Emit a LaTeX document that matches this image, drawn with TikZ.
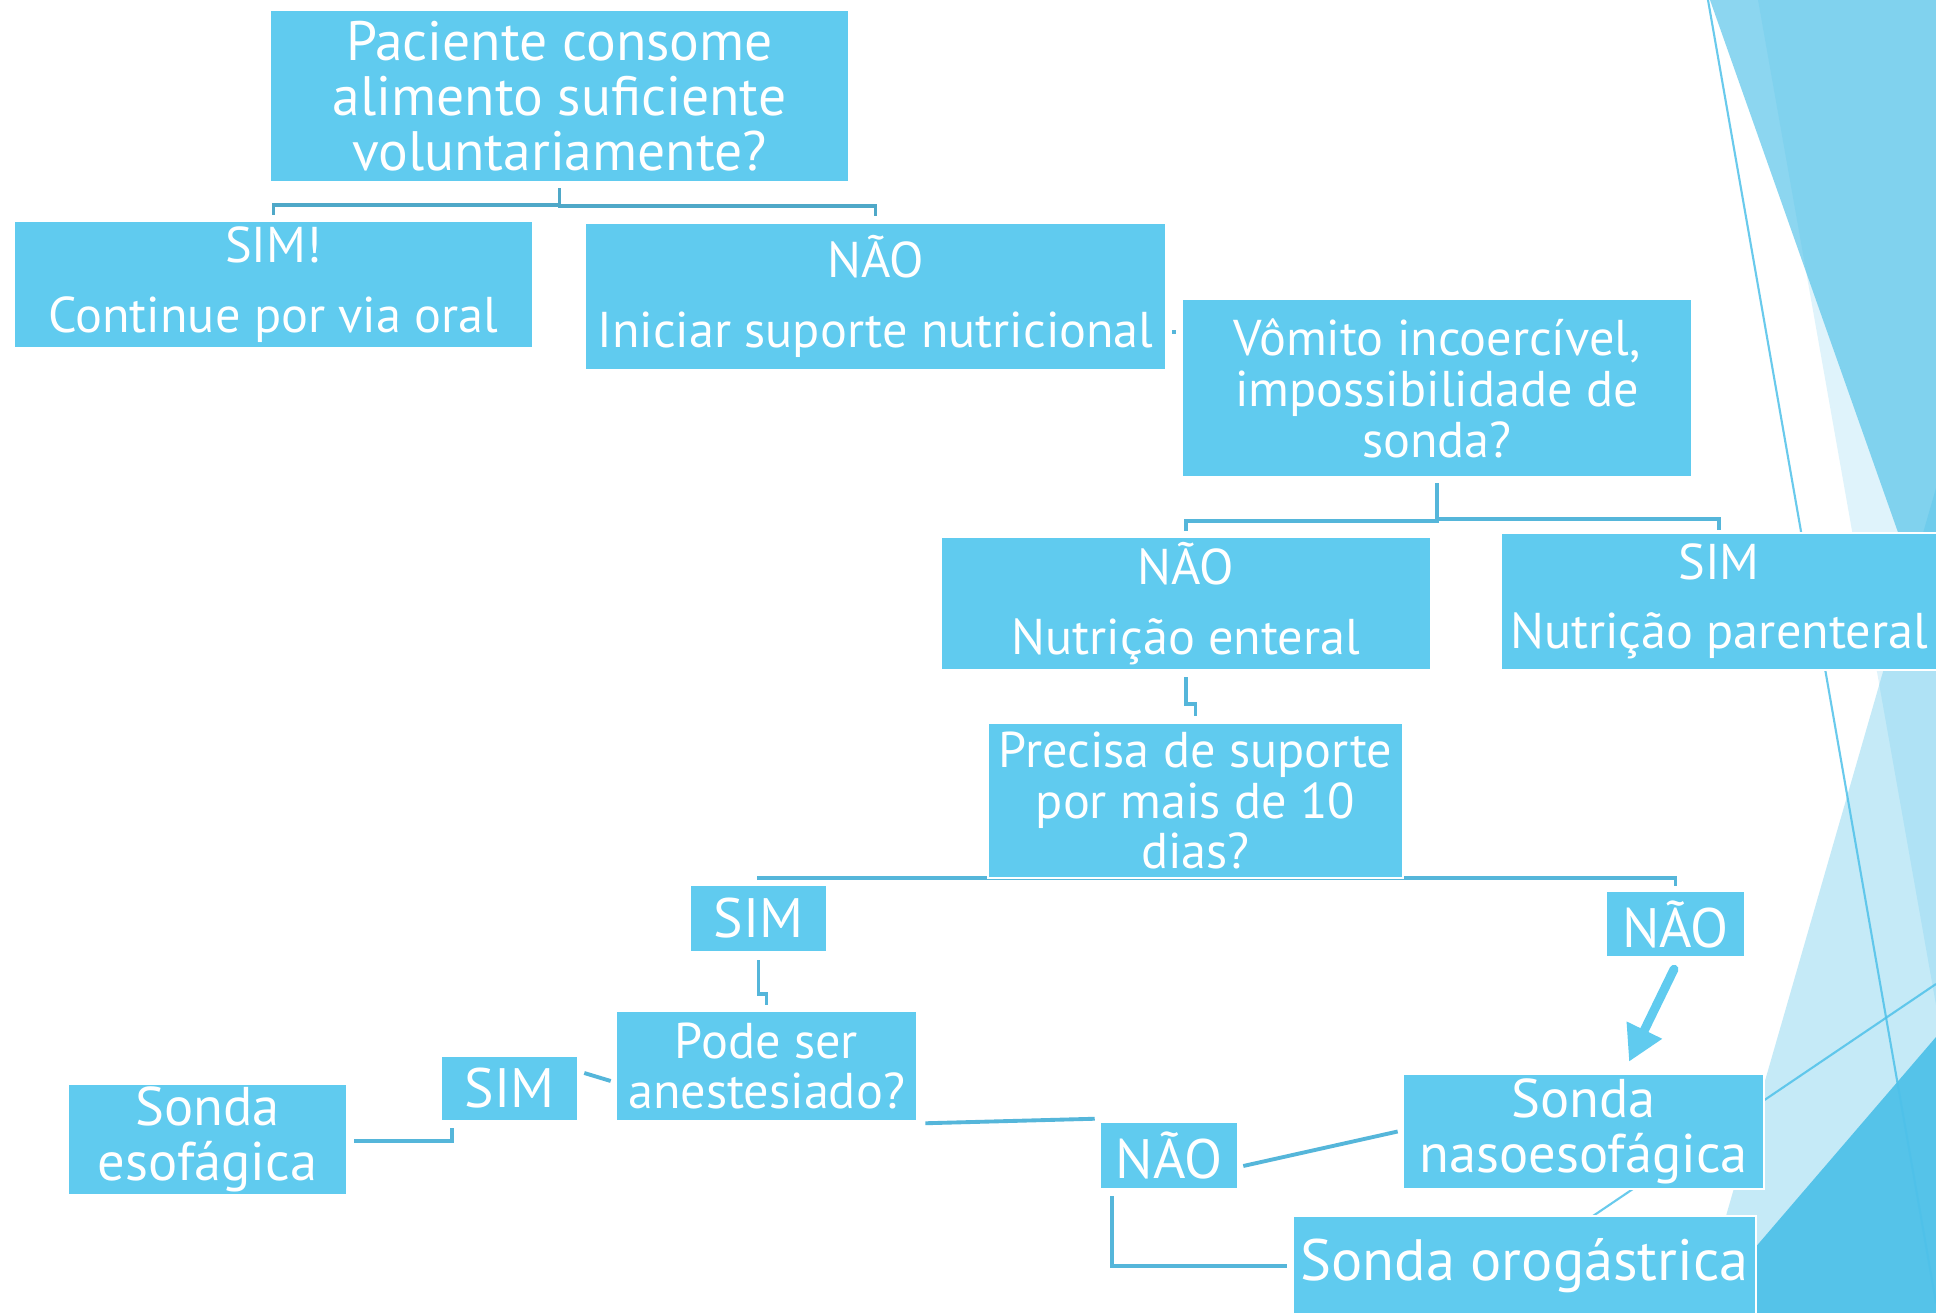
\documentclass[tikz,border=0pt]{standalone}
\usepackage{fontspec}
\setmainfont{PT Sans}
\usetikzlibrary{calc,arrows.meta,backgrounds}
\definecolor{boxc}{HTML}{60CBEF}
\definecolor{linec}{HTML}{55B6DA}
\definecolor{toplinec}{HTML}{4FA8C8}
\definecolor{facet}{HTML}{4FC1E9}
\newcommand{\bigtxt}{\fontsize{15.8}{15.6}\selectfont}
\newcommand{\midtxt}{\fontsize{14.3}{14.5}\selectfont}
\newcommand{\twotxt}{\fontsize{14.3}{19.8}\selectfont}
\newcommand{\sondatxt}{\fontsize{15.5}{15.6}\selectfont}
\newcommand{\orogtxt}{\fontsize{16.6}{16.8}\selectfont}
\tikzset{
  box/.style={fill=boxc, draw=white, line width=0.7pt, text=white,
    align=center, inner sep=0pt},
  conn/.style={draw=linec, line width=1.1pt},
  topconn/.style={draw=toplinec, line width=1.1pt},
  facetline/.style={draw=facet, line width=0.6pt, opacity=0.85}
}
\begin{document}
\begin{tikzpicture}[x=0.01cm, y=-0.01cm]
  \useasboundingbox (0,0) rectangle (1936,1313);

  \node[box, minimum width=57.9mm, minimum height=17.2mm, font=\bigtxt] (q1) at (559.5,96)
    {Paciente consome\\alimento suficiente\\voluntariamente?};
  \node[box, minimum width=51.9mm, minimum height=12.7mm, font=\twotxt] (sim1) at (273.5,284.5)
    {SIM!\\Continue por via oral};
  \node[box, minimum width=58.1mm, minimum height=14.7mm, font=\twotxt] (nao1) at (875.5,296.5)
    {NÃO\\Iniciar suporte nutricional};
  \node[box, minimum width=51.0mm, minimum height=17.8mm, font=\midtxt] (q2) at (1437,388)
    {Vômito incoercível,\\impossibilidade de\\sonda?};
  \node[box, minimum width=49.0mm, minimum height=13.3mm, font=\twotxt] (nao2) at (1186,603.5)
    {NÃO\\Nutrição enteral};
  \node[box, minimum width=43.6mm, minimum height=13.7mm, font=\twotxt] (sim2) at (1719,601.5)
    {SIM\\Nutrição parenteral};
  \node[box, minimum width=41.5mm, minimum height=15.5mm, font=\midtxt] (q3) at (1195.5,800.5)
    {Precisa de suporte\\por mais de 10\\dias?};
  \node[box, minimum width=13.7mm, minimum height=6.7mm, font=\bigtxt] (sim3) at (758.5,918.5) {SIM};
  \node[box, minimum width=13.9mm, minimum height=6.6mm, font=\bigtxt] (nao3) at (1675.5,924) {NÃO};
  \node[box, minimum width=30.1mm, minimum height=11.0mm, font=\midtxt] (q4) at (766.5,1066)
    {Pode ser\\anestesiado?};
  \node[box, minimum width=13.7mm, minimum height=6.5mm, font=\bigtxt] (sim4) at (509.5,1088.5) {SIM};
  \node[box, minimum width=27.9mm, minimum height=11.1mm, font=\sondatxt] (esof) at (207.5,1139.5)
    {Sonda\\esofágica};
  \node[box, minimum width=36.1mm, minimum height=11.5mm, font=\sondatxt] (naso) at (1583.5,1131.5)
    {Sonda\\nasoesofágica};
  \node[box, minimum width=13.8mm, minimum height=6.7mm, font=\bigtxt] (nao4) at (1169,1155.5) {NÃO};
  \node[box, minimum width=46.3mm, minimum height=10.0mm, font=\orogtxt] (orog) at (1524.5,1266)
    {Sonda orogástrica};

  \begin{scope}[on background layer]
    \fill[white] (0,0) rectangle (1936,1313);
    \fill[facet, opacity=0.65] (1710,0) -- (1936,0) -- (1936,640) -- cycle;
    \fill[facet, opacity=0.18] (1758,0) -- (1936,0) -- (1936,1005) -- cycle;
    \fill[facet, opacity=0.33] (1936,488) -- (1698,1313) -- (1936,1313) -- cycle;
    \fill[facet, opacity=0.95] (1936,1037) -- (1699,1313) -- (1936,1313) -- cycle;
    \draw[facetline] (1708,0) -- (1936,1303);
    \draw[facetline] (1590,1218) -- (1936,984);

    \draw[topconn] ($(q1.south)+(0,5)$) -- ++(0,17) -| ($(sim1.north)+(0,-5)$);
    \draw[topconn] ($(q1.south)+(0,5)$) -- ++(0,18) -| ($(nao1.north)+(0,-6)$);
    \draw[conn] ($(nao1.east)+(5,35.5)$) -- ($(q2.west |- nao1.east)+(-5,35.5)$);
    \draw[conn] ($(q2.south)+(0,5)$) -- ++(0,38) -| ($(nao2.north)+(0,-5)$);
    \draw[conn] ($(q2.south)+(0,5)$) -- ++(0,36) -| ($(sim2.north)+(0,-2)$);
    \draw[conn] ($(nao2.south)+(0,6)$) -- ++(0,27) -| ($(q3.north)+(0,-6)$);
    \draw[conn] ($(q3.south)+(0,-1)$) -| ($(sim3.north)+(0,-4)$);
    \draw[conn] ($(q3.south)+(0,-1)$) -| ($(nao3.north)+(0,-4)$);
    \draw[conn] ($(sim3.south)+(0,7)$) -- ++(0,34) -| ($(q4.north)+(0,-5)$);
    \draw[conn] ($(sim4.east)+(5,-15.5)$) -- ($(q4.west)+(-4,15)$);
    \draw[conn] ($(sim4.south)+(-57.5,6)$) |- ($(esof.east)+(6,1.5)$);
    \draw[conn] ($(q4.south east)+(7,1)$) -- ($(nao4.north west)+(-4,-2)$);
    \draw[conn] ($(nao4.east)+(4,10.5)$) -- ($(naso.west)+(-4,0)$);
    \draw[conn] ($(nao4.south)+(-57,6)$) |- ($(orog.west)+(-5,0)$);
    \draw[draw=boxc, line width=2.55pt, line cap=round, -{Triangle[width=10.5pt,length=10pt]}]
      ($(nao3.south)+(-1.5,11)$) -- ($(naso.north)+(45.5,-11)$);
  \end{scope}
\end{tikzpicture}
\end{document}
